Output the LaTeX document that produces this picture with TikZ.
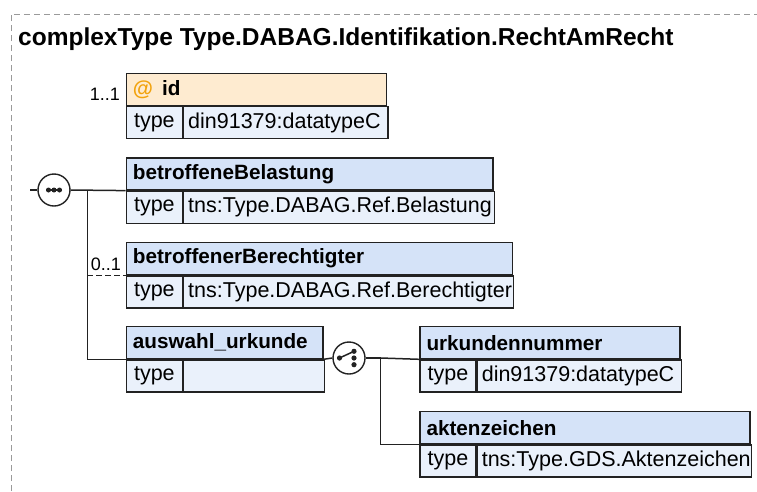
\documentclass[tikz,border=0pt]{standalone}
\usepackage{fontspec}
\setmainfont{Liberation Sans}
\usepackage{xcolor}
\usepackage{tikz}
\usetikzlibrary{positioning}

\definecolor{boxline}{HTML}{222222}
\definecolor{headblue}{HTML}{D5E3F8}
\definecolor{rowblue}{HTML}{EAF1FB}
\definecolor{attrhead}{HTML}{FEEBD0}
\definecolor{atsign}{HTML}{F2A20C}
\definecolor{framegray}{HTML}{9A9A9A}

\begin{document}
\begin{tikzpicture}[
    x=1pt, y=-1pt,
    frame_style/.style={framegray, line width=1pt, dash pattern=on 6pt off 4pt},
    title_style/.style={font=\fontsize{24.5}{28}\selectfont\bfseries, anchor=base west, inner sep=0},
    head_box/.style={draw=boxline, fill=headblue, line width=1.3pt, minimum height=32pt, anchor=north west, inner sep=0},
    attr_box/.style={head_box, fill=attrhead},
    type_box/.style={draw=boxline, fill=rowblue, line width=1.3pt, minimum height=32pt, minimum width=56pt, anchor=north west, inner sep=0, font=\fontsize{21.5}{24}\selectfont},
    val_box/.style={draw=boxline, fill=rowblue, line width=1.3pt, minimum height=32pt, anchor=north west, inner sep=0},
    head_lbl/.style={font=\fontsize{20.7}{24}\selectfont\bfseries, anchor=west, inner sep=0},
    val_lbl/.style={font=\fontsize{21.5}{24}\selectfont, anchor=west, inner sep=0},
    occ_lbl/.style={font=\fontsize{18}{20}\selectfont, anchor=base east, inner sep=0},
    conn/.style={boxline, line width=1.5pt},
    opt_conn/.style={conn, dash pattern=on 6pt off 3pt},
    comp_node/.style={circle, draw=boxline, fill=white, line width=1.4pt, minimum size=32pt, inner sep=0}
  ]

  % Elementkasten: Name, Stil, x, y, Breite, Titel, Typ
  \def\elembox#1#2#3#4#5#6#7{
    \node[#2, minimum width=#5pt] (#1) at (#3,#4) {};
    \node[head_lbl] (#1_name) at ([xshift=7pt]#1.west) {#6};
    \node[type_box] (#1_key) at (#1.south west) {type};
    \node[val_box, minimum width={#5pt-56pt}] (#1_val) at (#1_key.north east) {};
    \node[val_lbl] (#1_type) at ([xshift=5pt]#1_val.west) {#7};
  }

  \useasboundingbox (0,0) rectangle (757,491);

  % 1. Rahmen und Titel
  \draw[frame_style] (11,491) -- (11,14) -- (757,14);
  \node[title_style] (title) at (18,45) {complexType Type.DABAG.Identifikation.RechtAmRecht};

  % 2. Attribut id
  \elembox{id}{attr_box}{125.7}{72.7}{260.3}{\textcolor{atsign}{@}\hspace{9pt}id}{din91379:datatypeC}
  \node[occ_lbl] (id_occ) at (120,100) {1..1};

  % 3. Sequenz mit drei Elementen
  \elembox{bel}{head_box}{125.7}{157.3}{366.6}{betroffeneBelastung}{tns:Type.DABAG.Ref.Belastung}
  \elembox{ber}{head_box}{125.7}{242}{386}{betroffenerBerechtigter}{tns:Type.DABAG.Ref.Berechtigter}
  \elembox{ausw}{head_box}{125.7}{326}{196.6}{auswahl\_urkunde}{}
  \node[occ_lbl] (ber_occ) at (121,270.5) {0..1};

  \node[comp_node] (seq) at (54,190) {};
  \draw[conn] ([xshift=-8pt]seq.center) -- ([xshift=8pt]seq.center);
  \foreach \dx in {-5.5,0,5.5}
    \fill[boxline] ([xshift=\dx pt]seq.center) circle (2.5pt);
  \coordinate (seq_in) at (30,190);
  \coordinate (seq_bus) at (87.3,190);
  \draw[conn] (seq_in) -- (seq.west);
  \draw[conn] (seq.east) -- (bel.south west);
  \draw[conn] (seq_bus) |- (ausw.south west);
  \draw[opt_conn] (seq_bus |- ber.south west) -- (ber.south west);

  % 4. Auswahl zwischen Urkundennummer und Aktenzeichen
  \elembox{urk}{head_box}{419.3}{326}{260}{urkundennummer}{din91379:datatypeC}
  \elembox{akt}{head_box}{419.3}{411}{330}{aktenzeichen}{tns:Type.GDS.Aktenzeichen}

  \node[comp_node] (cho) at (349,358) {};
  \draw[conn] ([xshift=-9.5pt]cho.center) -- ([xshift=5pt,yshift=6.7pt]cho.center);
  \fill[boxline] ([xshift=-9.5pt]cho.center) circle (2.6pt);
  \foreach \dy in {-6.7,0,6.7}
    \fill[boxline] ([xshift=5pt,yshift=\dy pt]cho.center) circle (2.6pt);
  \coordinate (cho_bus) at (380.7,358);
  \draw[conn] (ausw.south east) -- (cho.west);
  \draw[conn] (cho.east) -- (cho_bus) |- (akt.south west);
  \draw[conn] (cho_bus) -- (urk.south west);

\end{tikzpicture}
\end{document}
